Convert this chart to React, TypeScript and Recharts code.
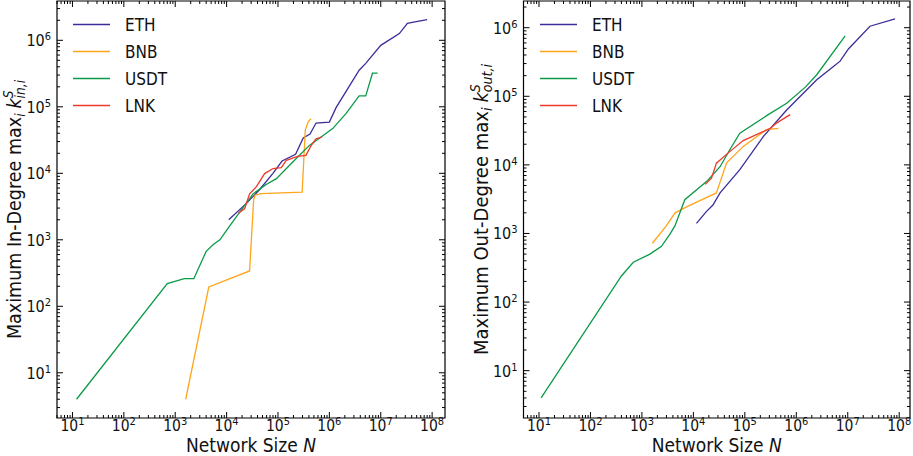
import React from "react";
import {
  LineChart,
  Line,
  XAxis,
  YAxis,
  Legend,
  ReferenceArea,
} from "recharts";

// ---- data (x = network size N, y = max degree) ----

// in-degree panel
const ethInX = [11000, 24000, 44000, 79000, 120000, 220000, 310000, 420000, 550000, 1.0e6, 1.35e6, 3.8e6, 5.1e6, 1e7, 2.3e7, 3.3e7, 4.1e7, 8e7];
const ethInY = [2000, 3500, 5700, 9900, 15300, 19300, 34000, 39000, 57000, 59000, 97000, 355000, 450000, 840000, 1.26e6, 1.8e6, 1.86e6, 2.05e6];

const bnbInX = [1600, 4500, 28000, 33600, 36000, 47000, 295000, 340000, 390000, 440000];
const bnbInY = [4, 195, 340, 4000, 4700, 4950, 5200, 45000, 60000, 66000];

const usdtInX = [12, 700, 1500, 2300, 4000, 5500, 7400, 10700, 18000, 32600, 59000, 93000, 194000, 409000, 1.16e6, 2.1e6, 3.8e6, 5.1e6, 6.9e6, 8.7e6];
const usdtInY = [4, 220, 260, 260, 670, 850, 1000, 1500, 2600, 4900, 6800, 8300, 14800, 26300, 47000, 79000, 146000, 146000, 320000, 320000];

const lnkInX = [17000, 22500, 28000, 38000, 55000, 80000, 116000, 145000, 240000, 350000, 440000, 550000, 710000];
const lnkInY = [2500, 2950, 4900, 6300, 9900, 11800, 12200, 15700, 18000, 18600, 26000, 33000, 35000];

// out-degree panel
const ethOutX = [11500, 18000, 24000, 33000, 80000, 230000, 650000, 2.5e6, 5.2e6, 7.1e6, 1.03e7, 2.7e7, 8.3e7];
const ethOutY = [1400, 2100, 2600, 3900, 8500, 26000, 63000, 174000, 270000, 325000, 490000, 1.05e6, 1.34e6];

const bnbOutX = [1600, 3000, 4400, 7900, 28000, 44000, 93000, 263000, 450000];
const bnbOutY = [720, 1300, 2000, 2500, 3900, 10600, 18600, 32600, 34000];

const usdtOutX = [11, 400, 680, 1430, 2400, 3500, 4400, 6800, 18000, 33000, 51000, 80000, 285000, 650000, 1.5e6, 2.5e6, 8.9e6];
const usdtOutY = [4, 240, 380, 500, 650, 980, 1300, 3100, 5700, 9400, 16600, 29000, 54000, 79000, 136000, 206000, 760000];

const lnkOutX = [17000, 22500, 28000, 51000, 93000, 195000, 310000, 420000, 760000];
const lnkOutY = [5200, 6400, 10600, 15600, 22600, 29000, 34000, 41000, 54000];

const xMajorTicks = [10, 100, 1000, 1e4, 1e5, 1e6, 1e7, 1e8];
const yMajorTicks = [10, 100, 1000, 1e4, 1e5, 1e6];

const COLORS = {
  ETH: "#3b2e9a",
  BNB: "#ffa51a",
  USDT: "#0c9a48",
  LNK: "#ee3a2a",
};

const FONT = "'DejaVu Sans Condensed', 'DejaVu Sans', sans-serif";

const zip = (xs: number[], ys: number[]) => xs.map((x, i) => ({ x, y: ys[i] }));

// majors plus 2..9 minors, kept inside the axis range
const withMinors = (majors: number[], domain: number[]) => {
  const out: number[] = [];
  const first = majors[0] / 10;
  for (let d = first; d <= majors[majors.length - 1] * 10; d *= 10) {
    for (let m = 1; m < 10; m++) {
      const v = Math.round(d * m * 1e6) / 1e6;
      if (v >= domain[0] && v <= domain[1]) out.push(v);
    }
  }
  return out;
};

const isMajor = (v: number) => {
  const l = Math.log10(v);
  return Math.abs(l - Math.round(l)) < 1e-6;
};

type Plot = { l: number; r: number; t: number; b: number };

const XTick = (props: any) => {
  const { x, payload, plot } = props;
  const major = isMajor(payload.value);
  const len = major ? 6 : 3;
  return (
    <g>
      <line x1={x} x2={x} y1={plot.b} y2={plot.b - len} stroke="#000" strokeWidth={1} />
      <line x1={x} x2={x} y1={plot.t} y2={plot.t + len} stroke="#000" strokeWidth={1} />
      {major && (
        <text x={x} y={plot.b + 12.5} textAnchor="middle" fontFamily={FONT} fontSize={15.5} fill="#111">
          10
          <tspan dy={-6} fontSize={11}>
            {Math.round(Math.log10(payload.value))}
          </tspan>
        </text>
      )}
    </g>
  );
};

const YTick = (props: any) => {
  const { y, payload, plot } = props;
  const major = isMajor(payload.value);
  const len = major ? 6 : 3;
  return (
    <g>
      <line x1={plot.l} x2={plot.l + len} y1={y} y2={y} stroke="#000" strokeWidth={1} />
      <line x1={plot.r} x2={plot.r - len} y1={y} y2={y} stroke="#000" strokeWidth={1} />
      {major && (
        <text x={plot.l - 6} y={y + 6} textAnchor="end" fontFamily={FONT} fontSize={16} fill="#111">
          10
          <tspan dy={-6} fontSize={11}>
            {Math.round(Math.log10(payload.value))}
          </tspan>
        </text>
      )}
    </g>
  );
};

const LegendBox = ({ items }: any) => (
  <svg width={130} height={115}>
    {items.map((name: keyof typeof COLORS, i: number) => (
      <g key={name}>
        <line x1={13} x2={50} y1={14.5 + 27 * i} y2={14.5 + 27 * i} stroke={COLORS[name]} strokeWidth={1.3} />
        <text x={65} y={20.5 + 27 * i} fontFamily={FONT} fontSize={17} fill="#111">
          {name}
        </text>
      </g>
    ))}
  </svg>
);

type PanelProps = {
  left: number;
  width: number;
  plot: Plot;
  xDomain: number[];
  yDomain: number[];
  kind: "in" | "out";
  legendLeft: number;
  labelX: number;
  labelSize: number;
  series: { name: keyof typeof COLORS; data: { x: number; y: number }[] }[];
};

const Panel = ({ left, width, plot, xDomain, yDomain, kind, legendLeft, labelX, labelSize, series }: PanelProps) => {
  const cy = (plot.t + plot.b) / 2;
  const cx = (plot.l + plot.r) / 2;
  const small = labelSize * 0.7;
  return (
    <div style={{ position: "absolute", left, top: 0 }}>
      <LineChart
        width={width}
        height={456}
        margin={{ top: plot.t, right: width - plot.r, bottom: 0, left: 0 }}
      >
        <XAxis
          dataKey="x"
          type="number"
          scale="log"
          domain={xDomain}
          allowDataOverflow
          ticks={withMinors(xMajorTicks, xDomain)}
          interval={0}
          height={456 - plot.b}
          axisLine={false}
          tickLine={false}
          tick={(p: any) => <XTick {...p} plot={plot} />}
          label={() => (
            <text x={cx} y={452} textAnchor="middle" fontFamily={FONT} fontSize={19} fill="#111">
              Network Size <tspan fontStyle="italic">N</tspan>
            </text>
          )}
        />
        <YAxis
          dataKey="y"
          type="number"
          scale="log"
          domain={yDomain}
          allowDataOverflow
          ticks={withMinors(yMajorTicks, yDomain)}
          interval={0}
          width={plot.l}
          axisLine={false}
          tickLine={false}
          tick={(p: any) => <YTick {...p} plot={plot} />}
          label={() => (
            <text
              x={labelX}
              y={cy}
              transform={`rotate(-90 ${labelX} ${cy})`}
              textAnchor="middle"
              fontFamily={FONT}
              fontSize={labelSize}
              fill="#111"
            >
              {kind === "in" ? "Maximum In-Degree max" : "Maximum Out-Degree max"}
              <tspan dy={4} fontSize={small} fontStyle="italic">i</tspan>
              <tspan dx={5} dy={-4} fontStyle="italic">k</tspan>
              <tspan dy={-8} fontSize={small} fontStyle="italic">S</tspan>
              <tspan dx={-8} dy={12} fontSize={small} fontStyle="italic">
                {kind === "in" ? "in,i" : "out,i"}
              </tspan>
            </text>
          )}
        />
        <ReferenceArea
          x1={xDomain[0]}
          x2={xDomain[1]}
          y1={yDomain[0]}
          y2={yDomain[1]}
          fill="none"
          stroke="#000"
          strokeWidth={1.2}
          ifOverflow="visible"
        />
        <Legend
          layout="vertical"
          align="center"
          verticalAlign="middle"
          content={<LegendBox items={series.map((s) => s.name)} />}
          wrapperStyle={{ position: "absolute", left: legendLeft, top: 10, width: 130, height: 115 }}
        />
        {series.map((s) => (
          <Line
            key={s.name}
            name={s.name}
            data={s.data}
            dataKey="y"
            type="linear"
            stroke={COLORS[s.name]}
            strokeWidth={1.3}
            dot={false}
            activeDot={false}
            isAnimationActive={false}
          />
        ))}
      </LineChart>
    </div>
  );
};

const App = () => {
  return (
    <div style={{ position: "absolute", left: 0, top: 0, width: 913, height: 456, background: "#fff" }}>
      <Panel
        left={0}
        width={453}
        plot={{ l: 57, r: 445, t: 1, b: 418 }}
        xDomain={[5.0, 1.78e8]}
        yDomain={[2.09, 3.9e6]}
        kind="in"
        legendLeft={60}
        labelX={21}
        labelSize={19.5}
        series={[
          { name: "ETH", data: zip(ethInX, ethInY) },
          { name: "BNB", data: zip(bnbInX, bnbInY) },
          { name: "USDT", data: zip(usdtInX, usdtInY) },
          { name: "LNK", data: zip(lnkInX, lnkInY) },
        ]}
      />
      <Panel
        left={453}
        width={460}
        plot={{ l: 70.5, r: 457, t: 1, b: 418 }}
        xDomain={[5.0, 1.62e8]}
        yDomain={[2.04, 2.45e6]}
        kind="out"
        legendLeft={74}
        labelX={35}
        labelSize={20}
        series={[
          { name: "ETH", data: zip(ethOutX, ethOutY) },
          { name: "BNB", data: zip(bnbOutX, bnbOutY) },
          { name: "USDT", data: zip(usdtOutX, usdtOutY) },
          { name: "LNK", data: zip(lnkOutX, lnkOutY) },
        ]}
      />
    </div>
  );
};

export default App;
